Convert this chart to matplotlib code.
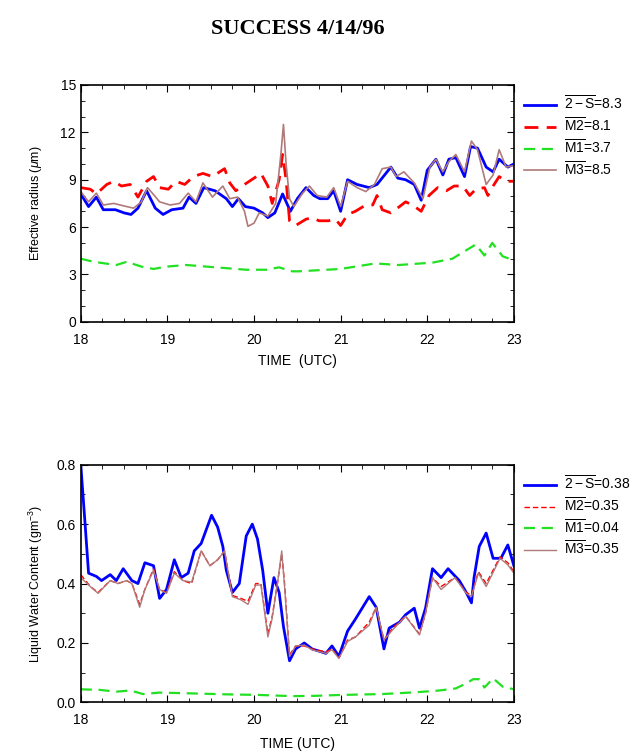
import numpy as np
import matplotlib
matplotlib.use('Agg')
import matplotlib.pyplot as plt
from matplotlib.ticker import MultipleLocator

plt.rcParams['font.family'] = ['Liberation Sans', 'DejaVu Sans']
plt.rcParams['mathtext.fontset'] = 'custom'
plt.rcParams['mathtext.rm'] = 'Liberation Sans'
plt.rcParams['mathtext.it'] = 'Liberation Sans:italic'

# ---- Effective radius (um) ----
t_re_2s = [18.00, 18.09, 18.18, 18.26, 18.40, 18.50, 18.58, 18.66, 18.76, 18.86, 18.95, 19.05,
           19.18, 19.25, 19.33, 19.42, 19.55, 19.68, 19.75, 19.82, 19.90, 20.00, 20.10, 20.16,
           20.24, 20.33, 20.42, 20.50, 20.60, 20.69, 20.76, 20.85, 20.92, 21.00, 21.08, 21.19,
           21.33, 21.42, 21.58, 21.66, 21.75, 21.85, 21.93, 22.00, 22.10, 22.18, 22.25, 22.33,
           22.43, 22.50, 22.58, 22.68, 22.76, 22.83, 22.93, 23.00]
re_2s = [8.1, 7.3, 7.9, 7.1, 7.1, 6.9, 6.8, 7.2, 8.3, 7.2, 6.8, 7.1,
         7.2, 7.9, 7.5, 8.5, 8.3, 7.8, 7.3, 7.8, 7.3, 7.2, 6.9, 6.6,
         6.9, 8.1, 7.0, 7.8, 8.5, 8.0, 7.8, 7.8, 8.3, 7.0, 9.0, 8.7,
         8.5, 8.7, 9.8, 9.1, 9.0, 8.7, 7.7, 9.6, 10.3, 9.3, 10.3, 10.4,
         9.2, 11.1, 11.0, 9.8, 9.5, 10.3, 9.8, 10.0]

t_re_m2 = [18.00, 18.11, 18.18, 18.30, 18.38, 18.47, 18.57, 18.66, 18.76, 18.84, 18.91, 19.01,
           19.10, 19.20, 19.30, 19.41, 19.52, 19.66, 19.72, 19.79, 19.89, 20.00, 20.08, 20.16,
           20.21, 20.29, 20.33, 20.37, 20.41, 20.48, 20.60, 20.67, 20.75, 20.86, 20.94, 21.00,
           21.08, 21.17, 21.29, 21.37, 21.42, 21.48, 21.58, 21.68, 21.75, 21.83, 21.93, 22.02,
           22.12, 22.22, 22.31, 22.41, 22.49, 22.56, 22.66, 22.70, 22.76, 22.83, 22.91, 23.00]
re_m2 = [8.5, 8.4, 8.1, 8.7, 8.9, 8.6, 8.7, 7.9, 8.9, 9.2, 8.5, 8.4,
         8.9, 8.7, 9.2, 9.4, 9.2, 9.7, 8.8, 8.3, 8.7, 9.1, 9.4, 8.6,
         7.5, 9.0, 10.6, 9.0, 6.4, 6.1, 6.5, 6.6, 6.4, 6.4, 6.5, 6.1,
         6.8, 7.0, 7.4, 7.4, 8.0, 7.1, 6.9, 7.3, 7.6, 7.4, 7.0, 8.0,
         8.5, 8.3, 8.6, 8.6, 8.0, 8.4, 8.5, 8.0, 8.6, 9.2, 8.9, 8.9]

t_re_m1 = [18.00, 18.15, 18.41, 18.53, 18.70, 18.84, 18.99, 19.22, 19.45, 19.68, 19.91, 20.14,
           20.29, 20.44, 20.52, 21.00, 21.40, 21.67, 22.06, 22.29, 22.44, 22.56, 22.66, 22.75,
           22.87, 23.00]
re_m1 = [4.0, 3.8, 3.6, 3.8, 3.5, 3.35, 3.5, 3.6, 3.5, 3.4, 3.3, 3.3,
         3.45, 3.2, 3.2, 3.35, 3.7, 3.6, 3.75, 4.0, 4.5, 4.9, 4.2, 5.0,
         4.15, 3.9]

t_re_m3 = [18.00, 18.09, 18.18, 18.26, 18.38, 18.53, 18.61, 18.70, 18.77, 18.85, 18.91, 19.03,
           19.14, 19.24, 19.33, 19.41, 19.52, 19.64, 19.72, 19.81, 19.89, 19.93, 20.00, 20.06,
           20.16, 20.25, 20.31, 20.34, 20.37, 20.41, 20.46, 20.56, 20.64, 20.73, 20.84, 20.92,
           21.00, 21.08, 21.19, 21.29, 21.39, 21.48, 21.58, 21.64, 21.73, 21.85, 21.95, 22.03,
           22.10, 22.18, 22.25, 22.33, 22.43, 22.51, 22.58, 22.68, 22.76, 22.83, 22.91, 23.00]
re_m3 = [8.25, 7.6, 8.15, 7.4, 7.5, 7.3, 7.2, 7.6, 8.5, 8.0, 7.6, 7.4,
         7.5, 8.15, 7.6, 8.8, 7.9, 8.6, 7.8, 7.9, 7.0, 6.05, 6.25, 6.9,
         6.7, 7.5, 10.6, 12.5, 10.0, 7.8, 7.3, 8.15, 8.6, 8.0, 7.9, 8.5,
         7.3, 8.9, 8.5, 8.25, 8.7, 9.7, 9.8, 9.2, 9.5, 8.8, 7.8, 9.8,
         10.3, 9.5, 10.15, 10.6, 9.5, 11.45, 10.9, 8.7, 9.3, 10.9, 9.8, 9.9]

# ---- Liquid water content (g m-3) ----
t_lwc_2s = [18.00, 18.02, 18.05, 18.09, 18.18, 18.24, 18.34, 18.41, 18.49, 18.59, 18.66, 18.74,
            18.84, 18.91, 18.99, 19.08, 19.16, 19.24, 19.31, 19.39, 19.51, 19.58, 19.64, 19.68,
            19.75, 19.83, 19.91, 19.98, 20.04, 20.10, 20.16, 20.23, 20.29, 20.34, 20.41, 20.48,
            20.58, 20.67, 20.83, 20.90, 20.98, 21.08, 21.17, 21.33, 21.41, 21.50, 21.56, 21.68,
            21.75, 21.85, 21.91, 21.98, 22.06, 22.16, 22.24, 22.37, 22.45, 22.51, 22.54, 22.60,
            22.68, 22.76, 22.85, 22.93, 23.00]
lwc_2s = [0.80, 0.72, 0.60, 0.435, 0.424, 0.41, 0.43, 0.41, 0.45, 0.41, 0.40, 0.47,
          0.46, 0.35, 0.38, 0.48, 0.42, 0.435, 0.51, 0.535, 0.63, 0.59, 0.525, 0.445,
          0.37, 0.40, 0.56, 0.60, 0.55, 0.445, 0.30, 0.42, 0.37, 0.255, 0.14, 0.18,
          0.20, 0.18, 0.165, 0.19, 0.155, 0.24, 0.28, 0.356, 0.32, 0.18, 0.25, 0.27,
          0.295, 0.317, 0.25, 0.317, 0.45, 0.42, 0.45, 0.41, 0.37, 0.335, 0.42, 0.525,
          0.57, 0.485, 0.485, 0.53, 0.46]

t_lwc_m3 = [18.00, 18.11, 18.20, 18.34, 18.43, 18.53, 18.59, 18.68, 18.74, 18.84, 18.91, 18.99,
            19.08, 19.18, 19.28, 19.39, 19.49, 19.58, 19.66, 19.75, 19.85, 19.93, 20.02, 20.08,
            20.16, 20.21, 20.27, 20.32, 20.35, 20.41, 20.48, 20.58, 20.67, 20.83, 20.90, 20.98,
            21.08, 21.17, 21.33, 21.41, 21.50, 21.60, 21.75, 21.91, 21.98, 22.06, 22.16, 22.32,
            22.45, 22.51, 22.59, 22.68, 22.84, 22.93, 23.00]
lwc_m3 = [0.42, 0.39, 0.367, 0.41, 0.40, 0.41, 0.40, 0.32, 0.38, 0.445, 0.38, 0.367,
          0.435, 0.41, 0.405, 0.51, 0.46, 0.48, 0.51, 0.356, 0.345, 0.33, 0.395, 0.395,
          0.22, 0.283, 0.40, 0.51, 0.40, 0.154, 0.19, 0.193, 0.177, 0.165, 0.177, 0.148,
          0.205, 0.22, 0.26, 0.32, 0.21, 0.244, 0.29, 0.227, 0.30, 0.42, 0.38, 0.42,
          0.367, 0.356, 0.435, 0.39, 0.485, 0.463, 0.435]
lwc_m2 = [0.43, 0.39, 0.37, 0.41, 0.40, 0.41, 0.40, 0.33, 0.38, 0.45, 0.38, 0.37,
          0.44, 0.41, 0.40, 0.51, 0.46, 0.48, 0.51, 0.36, 0.35, 0.34, 0.40, 0.40,
          0.23, 0.29, 0.40, 0.50, 0.41, 0.16, 0.19, 0.19, 0.18, 0.17, 0.18, 0.15,
          0.21, 0.22, 0.27, 0.32, 0.21, 0.25, 0.29, 0.23, 0.30, 0.42, 0.39, 0.42,
          0.37, 0.36, 0.44, 0.40, 0.49, 0.47, 0.44]

t_lwc_m1 = [18.00, 18.22, 18.41, 18.57, 18.72, 18.91, 19.30, 19.68, 20.06, 20.44, 20.71, 21.00,
            21.48, 21.87, 22.14, 22.33, 22.45, 22.53, 22.60, 22.66, 22.76, 22.87, 23.00]
lwc_m1 = [0.044, 0.042, 0.036, 0.040, 0.028, 0.033, 0.030, 0.027, 0.025, 0.021, 0.022, 0.025,
          0.028, 0.034, 0.040, 0.047, 0.064, 0.078, 0.078, 0.050, 0.081, 0.053, 0.044]

re_labels = [r'$\overline{\mathrm{2-S}}$=8.3', r'$\overline{\mathrm{M2}}$=8.1',
             r'$\overline{\mathrm{M1}}$=3.7', r'$\overline{\mathrm{M3}}$=8.5']
lwc_labels = [r'$\overline{\mathrm{2-S}}$=0.38', r'$\overline{\mathrm{M2}}$=0.35',
              r'$\overline{\mathrm{M1}}$=0.04', r'$\overline{\mathrm{M3}}$=0.35']

fig = plt.figure(figsize=(6.36, 7.52), dpi=100)
ax1 = fig.add_axes([0.127, 0.572, 0.681, 0.315])
ax2 = fig.add_axes([0.127, 0.066, 0.681, 0.316])

blue, red, green, brown = '#0000ff', '#ff0000', '#22e022', '#b07a7a'

# top panel
ax1.plot(t_re_2s, re_2s, color=blue, lw=2.0, label=re_labels[0])
ax1.plot(t_re_m2, re_m2, color=red, lw=2.0, dashes=(5, 3), label=re_labels[1])
ax1.plot(t_re_m1, re_m1, color=green, lw=1.6, dashes=(5, 3), label=re_labels[2])
ax1.plot(t_re_m3, re_m3, color=brown, lw=1.2, label=re_labels[3])
ax1.set_ylim(0, 15)
ax1.yaxis.set_major_locator(MultipleLocator(3))
ax1.yaxis.set_minor_locator(MultipleLocator(1))
ax1.set_ylabel(r'Effective radius ($\mu$m)', fontsize=9, labelpad=12)
ax1.set_xlabel('TIME  (UTC)', fontsize=10, labelpad=5)

# bottom panel
ax2.plot(t_lwc_2s, lwc_2s, color=blue, lw=2.0, label=lwc_labels[0])
ax2.plot(t_lwc_m3, lwc_m2, color=red, lw=1.0, dashes=(4, 2), label=lwc_labels[1])
ax2.plot(t_lwc_m1, lwc_m1, color=green, lw=1.6, dashes=(5, 3), label=lwc_labels[2])
ax2.plot(t_lwc_m3, lwc_m3, color=brown, lw=1.0, label=lwc_labels[3])
ax2.set_ylim(0, 0.8)
ax2.yaxis.set_major_locator(MultipleLocator(0.2))
ax2.yaxis.set_minor_locator(MultipleLocator(0.1))
ax2.yaxis.set_major_formatter(matplotlib.ticker.FormatStrFormatter('%.1f'))
ax2.set_ylabel(r'Liquid Water Content (gm$^{-3}$)', fontsize=9, labelpad=8)
ax2.set_xlabel('TIME (UTC)', fontsize=10, labelpad=7)

for ax in (ax1, ax2):
    ax.set_xlim(18, 23)
    ax.xaxis.set_major_locator(MultipleLocator(1))
    ax.xaxis.set_minor_locator(MultipleLocator(0.25))
    ax.tick_params(which='both', direction='in', top=True, right=True, labelsize=10)
    ax.tick_params(axis='x', which='major', pad=8)
    ax.tick_params(which='major', length=5)
    ax.tick_params(which='minor', length=3)
    for s in ax.spines.values():
        s.set_linewidth(1.2)
    ax.legend(loc='upper left', bbox_to_anchor=(1.0, 1.0), frameon=False, fontsize=10,
              handlelength=2.3, handletextpad=0.6, labelspacing=0.25, borderaxespad=0.3)

fig.text(0.469, 0.962, 'SUCCESS 4/14/96', ha='center', va='center',
         family='Liberation Serif', fontweight='bold', fontsize=16)

plt.savefig('out.png', dpi=100)
